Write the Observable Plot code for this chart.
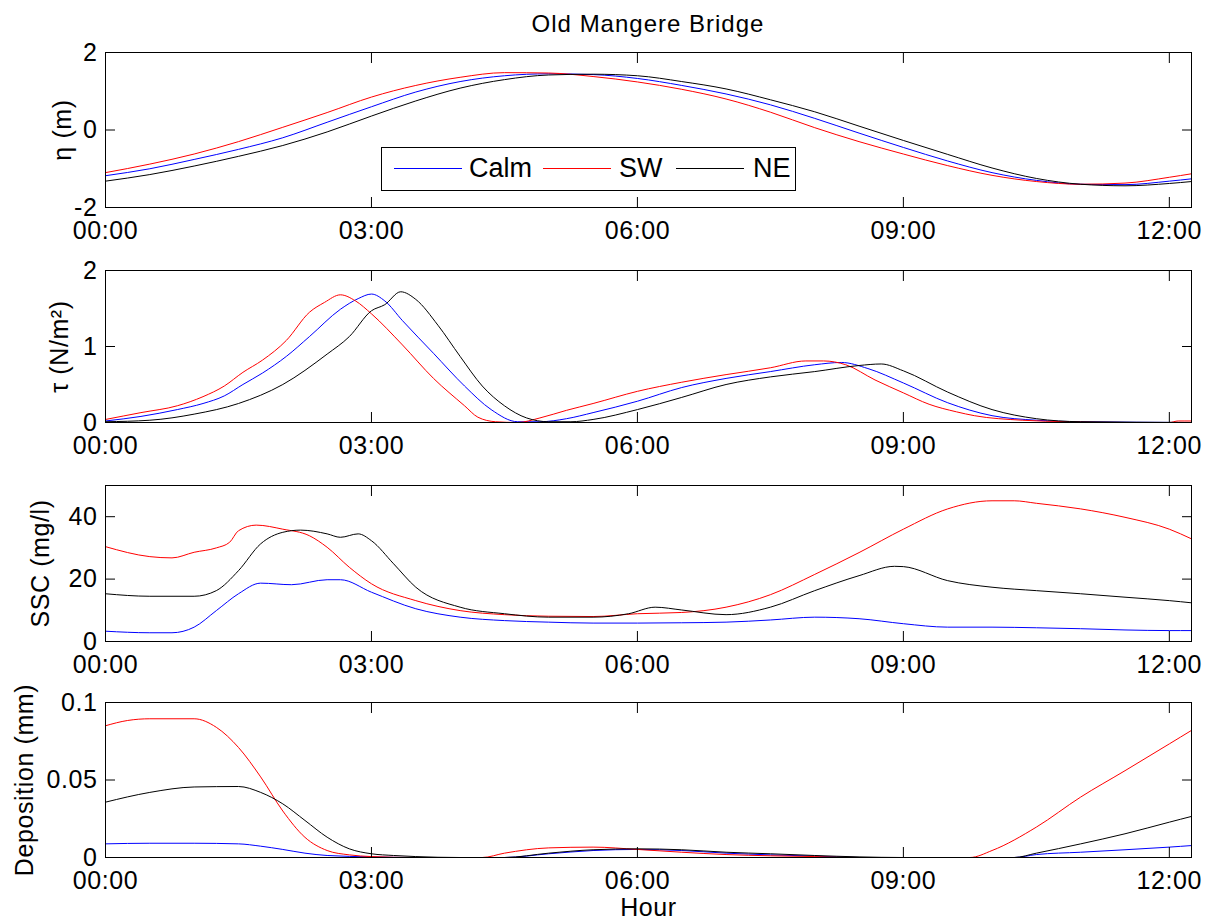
<!DOCTYPE html>
<html>
<head>
<meta charset="utf-8">
<script src="https://cdn.jsdelivr.net/npm/d3@7"></script>
<script src="https://cdn.jsdelivr.net/npm/@observablehq/plot@0.6"></script>
<style>
  html, body { margin: 0; padding: 0; background: #fff; overflow: hidden; }
  #fig { position: relative; width: 1212px; height: 922px; background: #fff;
         font-family: "Liberation Sans", Arial, Helvetica, sans-serif; color: #000; }
  #fig svg { position: absolute; left: 0; }
  .title { position: absolute; left: 105px; width: 1086px; top: 12px; text-align: center;
           font-size: 24px; line-height: 1; letter-spacing: 1px; }
  .legend { position: absolute; left: 381px; top: 147px; width: 413px; height: 42px;
            border: 1px solid #000; background: #fff; z-index: 5; }
  .legend .sw { position: absolute; top: 20px; height: 0; border-top: 1px solid; }
  .legend .lb { position: absolute; top: 7px; font-size: 27px; line-height: 1; }
</style>
</head>
<body>
<div id="fig">
  <div class="title">Old Mangere Bridge</div>
</div>
<script>
// ---------- categories / labels ----------
const seriesNames = ["Calm", "SW", "NE"];
const seriesColors = ["#0000ff", "#ff0000", "#000000"];
const xTicks = [0, 3, 6, 9, 12];
const xTickLabels = ["00:00", "03:00", "06:00", "09:00", "12:00"];
const xDomain = [0, 12.25];

// ---------- panel 1: water level eta (m) ----------
const etaHours = [0,0.5,1,1.5,2,2.5,3,3.5,4,4.5,5,5.5,6,6.5,7,7.5,8,8.5,9,9.5,10,10.5,11,11.5,12,12.25];
const etaCalm = [-1.18,-1.00,-0.76,-0.50,-0.20,0.20,0.60,0.98,1.25,1.40,1.45,1.43,1.33,1.15,0.93,0.65,0.30,-0.08,-0.45,-0.80,-1.10,-1.30,-1.40,-1.41,-1.32,-1.26];
const etaSW   = [-1.10,-0.88,-0.62,-0.30,0.07,0.45,0.85,1.15,1.36,1.48,1.47,1.38,1.24,1.05,0.80,0.46,0.06,-0.30,-0.62,-0.92,-1.17,-1.33,-1.40,-1.37,-1.22,-1.13];
const etaNE   = [-1.32,-1.15,-0.93,-0.68,-0.40,-0.05,0.36,0.75,1.08,1.30,1.42,1.44,1.40,1.25,1.06,0.78,0.47,0.10,-0.27,-0.63,-0.98,-1.25,-1.40,-1.44,-1.38,-1.33];

// ---------- panel 2: bed shear stress tau (N/m2) ----------
const tauCalmHours = [0,0.4,0.81,1.1,1.34,1.55,1.77,2.04,2.3,2.65,2.85,3.0,3.15,3.35,3.7,4.05,4.35,4.65,4.9,5.2,5.5,6.0,6.5,7.0,7.5,8.0,8.3,8.6,9.0,9.5,10.0,10.5,11.0,12.25];
const tauCalm      = [0.02,0.08,0.17,0.25,0.35,0.50,0.65,0.87,1.13,1.49,1.63,1.69,1.60,1.34,0.91,0.48,0.17,0.01,0.01,0.05,0.13,0.28,0.46,0.58,0.67,0.76,0.79,0.71,0.52,0.26,0.09,0.03,0.01,0.00];
const tauSWHours = [0,0.4,0.81,1.1,1.34,1.55,1.77,2.04,2.3,2.47,2.65,2.82,3.0,3.35,3.7,4.05,4.2,4.4,4.65,4.9,5.2,5.5,6.0,6.5,7.0,7.5,7.9,8.1,8.35,8.68,9.0,9.29,9.6,9.8,10.34,10.87,11.5,12.0,12.1,12.25];
const tauSW      = [0.04,0.13,0.22,0.34,0.48,0.66,0.82,1.08,1.45,1.58,1.68,1.60,1.43,1.02,0.58,0.22,0.07,0.01,0.00,0.06,0.16,0.25,0.41,0.53,0.63,0.72,0.81,0.81,0.76,0.56,0.39,0.24,0.14,0.09,0.03,0.01,0.00,0.00,0.02,0.02];
const tauNEHours = [0,0.5,1.0,1.5,2.0,2.5,2.75,3.0,3.15,3.33,3.5,3.75,4.0,4.25,4.5,4.75,5.0,5.25,5.5,6.0,6.5,7.0,7.5,8.0,8.5,8.75,9.0,9.5,10.0,10.5,11.0,12.25];
const tauNE      = [0.01,0.03,0.11,0.25,0.50,0.90,1.13,1.47,1.55,1.72,1.62,1.28,0.87,0.48,0.22,0.06,0.01,0.01,0.04,0.17,0.33,0.50,0.60,0.67,0.75,0.77,0.68,0.40,0.17,0.05,0.01,0.00];

// ---------- panel 3: SSC (mg/l) ----------
const sscCalmHours = [0,0.5,0.75,1.0,1.25,1.5,1.75,2.1,2.5,2.65,3.0,3.5,4.0,4.5,5.0,5.5,6.0,6.5,7.0,7.5,8.0,8.5,9.0,9.5,10.0,10.5,11.0,11.5,12.0,12.25];
const sscCalm      = [3.3,2.8,2.8,4.6,9.9,15.3,18.7,18.2,19.8,19.8,15.8,10.5,7.8,6.7,6.2,5.9,5.9,6.0,6.2,6.9,7.8,7.3,5.7,4.6,4.6,4.4,4.1,3.7,3.5,3.5];
const sscSWHours = [0,0.5,0.75,1.0,1.25,1.4,1.5,1.7,2.0,2.3,2.5,2.75,3.0,3.5,4.0,4.5,5.0,5.5,6.0,6.5,7.0,7.5,8.0,8.5,9.0,9.5,10.0,10.25,10.5,11.0,11.5,12.0,12.25];
const sscSW      = [30.4,27.2,26.8,28.6,30.0,31.8,35.5,37.3,36.0,33.9,30.2,23.8,18.5,13.1,9.9,8.6,8.1,8.0,8.9,9.3,11.0,15.0,21.5,28.5,36.0,42.5,45.1,45.1,44.3,42.5,39.8,36.0,32.9];
const sscNEHours = [0,0.5,1.0,1.25,1.5,1.75,2.0,2.2,2.5,2.65,2.85,3.0,3.25,3.5,4.0,4.5,5.0,5.5,5.9,6.2,6.5,7.0,7.5,8.0,8.5,8.9,9.0,9.5,10.0,10.5,11.0,11.5,12.0,12.25];
const sscNE      = [15.3,14.5,14.5,16.3,22.7,31.3,35.0,35.7,34.5,33.4,34.5,32.3,24.9,17.4,11.0,8.9,7.8,7.8,8.9,11.0,10.1,8.6,11.0,16.3,21.1,24.1,24.0,19.5,17.4,16.3,15.3,14.2,13.1,12.4];

// ---------- panel 4: deposition (mm) ----------
const depCalmHours = [0,0.5,1.0,1.5,1.75,2.0,2.25,2.5,3.0,3.5,4.5,5.0,5.5,6.0,6.5,7.0,7.5,8.0,8.5,10.25,10.5,11.0,11.5,12.0,12.25];
const depCalm      = [0.0088,0.0092,0.0092,0.0088,0.0073,0.0052,0.0028,0.0013,0.0004,0,0,0.0024,0.0045,0.0052,0.0045,0.0028,0.0017,0.0009,0,0,0.0019,0.0034,0.005,0.0067,0.0077];
const depSWHours = [0,0.25,0.5,1.0,1.25,1.5,1.75,2.0,2.25,2.5,2.75,3.0,3.5,4.25,4.5,5.0,5.5,6.0,6.5,7.0,7.5,8.0,8.5,9.75,10.0,10.5,11.0,11.5,12.0,12.25];
const depSW      = [0.085,0.0884,0.0895,0.0895,0.084,0.071,0.052,0.030,0.013,0.0045,0.0017,0.0006,0,0,0.0028,0.0062,0.0067,0.0052,0.0034,0.0019,0.0011,0.0006,0,0,0.0045,0.0196,0.039,0.056,0.0733,0.082];
const depNEHours = [0,0.5,1.0,1.5,1.75,2.0,2.25,2.5,2.75,3.0,3.25,3.5,4.0,4.5,5.0,5.5,6.0,6.5,7.0,7.5,8.0,8.5,9.0,10.25,10.5,11.0,11.5,12.0,12.25];
const depNE      = [0.0357,0.042,0.0455,0.0458,0.042,0.0346,0.0239,0.0131,0.0056,0.0024,0.0013,0.0006,0,0,0.0028,0.005,0.0056,0.005,0.0034,0.0024,0.0013,0.0004,0,0,0.0028,0.0088,0.0153,0.0228,0.0265];

// ---------- y axis settings ----------
const etaTicks = [-2, 0, 2];
const tauTicks = [0, 1, 2];
const sscTicks = [0, 20, 40];
const depTicks = [0, 0.05, 0.1];

const fig = document.getElementById("fig");
const FONT = "'Liberation Sans', Arial, Helvetica, sans-serif";

function rows(hours, vals) { return hours.map((h, i) => ({h, v: vals[i]})); }

function panel({frameTop, frameH, yDomain, yTicks, yLabel, labelOffset, series, xLabel}) {
  const mT = 12, mB = xLabel ? 65 : 40;
  const marks = [];
  series.forEach(([hours, vals], i) => {
    marks.push(Plot.line(rows(hours, vals), {x: "h", y: "v", stroke: seriesColors[i], strokeWidth: 1, curve: "monotone-x"}));
  });
  marks.push(Plot.frame({stroke: "#000", strokeWidth: 1}));
  // inward tick marks on all four sides
  marks.push(Plot.axisX(xTicks, {anchor: "bottom", tickSize: -10, fill: "none", label: null}));
  marks.push(Plot.axisX(xTicks, {anchor: "top", tickSize: -10, fill: "none", label: null}));
  marks.push(Plot.axisY(yTicks, {anchor: "left", tickSize: -10, fill: "none", label: null}));
  marks.push(Plot.axisY(yTicks, {anchor: "right", tickSize: -10, fill: "none", label: null}));
  // labels
  marks.push(Plot.axisX(xTicks, {anchor: "bottom", tickSize: 0, tickPadding: 14,
    tickFormat: (d) => xTickLabels[xTicks.indexOf(d)],
    label: xLabel || null, labelArrow: "none", labelAnchor: "center", labelOffset: 58}));
  marks.push(Plot.axisY(yTicks, {anchor: "left", tickSize: 0, tickPadding: 8,
    tickFormat: (d) => String(d),
    label: yLabel, labelArrow: "none", labelAnchor: "center", labelOffset}));
  const svg = Plot.plot({
    width: 1212,
    height: mT + frameH + mB,
    marginLeft: 105, marginRight: 21, marginTop: mT, marginBottom: mB,
    style: {background: "transparent", fontFamily: FONT, fontSize: "25px", letterSpacing: "0.6px", color: "#000", overflow: "visible"},
    x: {domain: xDomain},
    y: {domain: yDomain},
    marks
  });
  svg.style.top = (frameTop - mT) + "px";
  fig.appendChild(svg);
}

panel({frameTop: 52, frameH: 155, yDomain: [-2, 2], yTicks: etaTicks, yLabel: "η (m)", labelOffset: 52,
  series: [[etaHours, etaCalm], [etaHours, etaSW], [etaHours, etaNE]]});
panel({frameTop: 270, frameH: 152, yDomain: [0, 2], yTicks: tauTicks, yLabel: "τ (N/m²)", labelOffset: 55,
  series: [[tauCalmHours, tauCalm], [tauSWHours, tauSW], [tauNEHours, tauNE]]});
panel({frameTop: 485, frameH: 156, yDomain: [0, 50], yTicks: sscTicks, yLabel: "SSC (mg/l)", labelOffset: 74,
  series: [[sscCalmHours, sscCalm], [sscSWHours, sscSW], [sscNEHours, sscNE]]});
panel({frameTop: 702, frameH: 155, yDomain: [0, 0.1], yTicks: depTicks, yLabel: "Deposition (mm)", labelOffset: 90,
  series: [[depCalmHours, depCalm], [depSWHours, depSW], [depNEHours, depNE]], xLabel: "Hour"});

// legend (inside top panel)
const legend = document.createElement("div");
legend.className = "legend";
const swX = [12, 161, 294], swW = 68, lbX = [87, 237, 371];
seriesNames.forEach((name, i) => {
  const s = document.createElement("div");
  s.className = "sw";
  s.style.left = swX[i] + "px";
  s.style.width = swW + "px";
  s.style.borderTopColor = seriesColors[i];
  legend.appendChild(s);
  const t = document.createElement("div");
  t.className = "lb";
  t.style.left = lbX[i] + "px";
  t.textContent = name;
  legend.appendChild(t);
});
fig.appendChild(legend);
</script>
</body>
</html>
